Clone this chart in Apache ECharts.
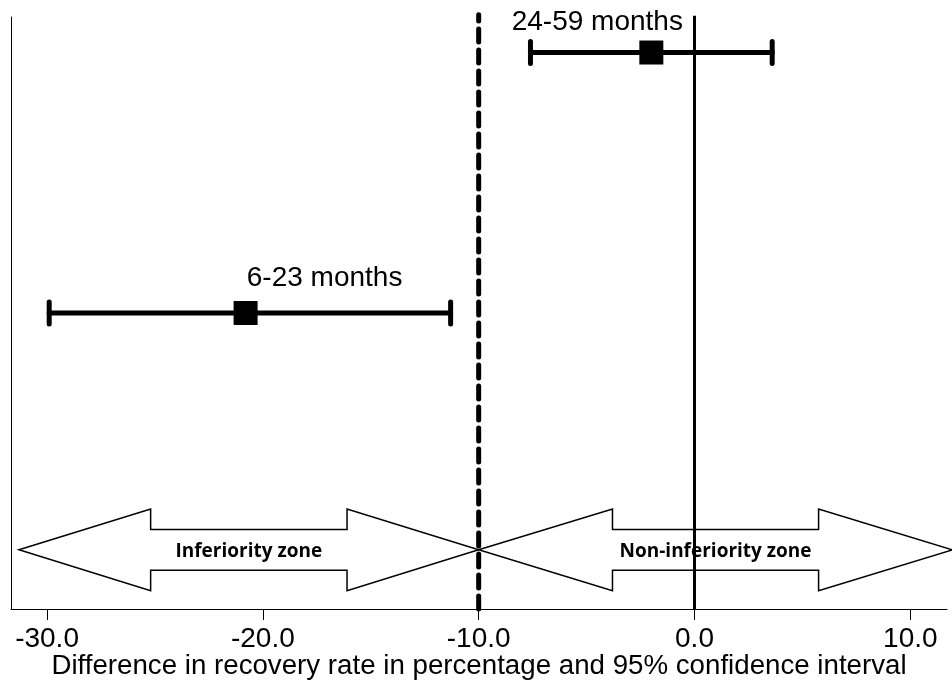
<!DOCTYPE html>
<html>
<head>
<meta charset="utf-8">
<script src="https://cdn.jsdelivr.net/npm/echarts@6/dist/echarts.min.js"></script>
<style>html,body{margin:0;padding:0;background:#fff;}#c{width:952px;height:683px;}</style>
</head>
<body>
<div id="c"></div>
<script>
// ---- data ----
const categories = ['6-23 months', '24-59 months'];
const estimates = [-20.8, -2.0];
const lowerCI = [-29.9, -7.6];
const upperCI = [-11.3, 3.6];
const rowY = [50, 94];
const xTicks = [-30, -20, -10, 0, 10];
const nonInferiorityMargin = -10;
const noDifference = 0;
const zoneNames = ['Inferiority zone', 'Non-inferiority zone'];
const zoneStart = [-31.3, -10];
const zoneEnd = [-10, 11.95];
const zoneHead = [6.1, 6.2];
const zoneY = 10;
const zoneHeadHalf = 6.9;
const zoneShaftHalf = 3.45;

const chart = echarts.init(document.getElementById('c'));

const barData = categories.map((c, i) => [lowerCI[i], upperCI[i], rowY[i], estimates[i], c]);
const zoneData = zoneNames.map((n, i) => [zoneStart[i], zoneEnd[i], zoneHead[i], n]);

const labelOffsets = [[79, -35], [-54, -30]];

chart.setOption({
  animation: false,
  backgroundColor: '#fff',
  grid: { left: 11, right: 5, top: 17, bottom: 74, containLabel: false, outerBoundsMode: 'none' },
  xAxis: {
    type: 'value', min: -31.67, max: 11.7,
    axisLine: { show: true, onZero: false, lineStyle: { color: '#000', width: 1 } },
    axisTick: { show: true, length: 11, inside: false, customValues: xTicks, lineStyle: { color: '#000', width: 1 } },
    axisLabel: { customValues: xTicks, formatter: v => v.toFixed(1), color: '#000', fontSize: 28, fontFamily: 'Liberation Sans, Arial', margin: 16 },
    splitLine: { show: false },
    name: 'Difference in recovery rate in percentage and 95% confidence interval',
    nameLocation: 'middle', nameGap: 43, nameMoveOverlap: false,
    nameTextStyle: { color: '#000', fontSize: 27.7, fontFamily: 'Liberation Sans, Arial' }
  },
  yAxis: {
    type: 'value', min: 0, max: 100,
    axisLine: { show: true, onZero: false, lineStyle: { color: '#000', width: 1 } },
    axisTick: { show: false }, axisLabel: { show: false }, splitLine: { show: false }
  },
  series: [
    {
      type: 'custom', clip: false, z: 1,
      data: zoneData,
      renderItem: (params, api) => {
        const x0 = api.value(0), x1 = api.value(1), h = api.value(2);
        const pts = [
          [x0, zoneY], [x0 + h, zoneY + zoneHeadHalf], [x0 + h, zoneY + zoneShaftHalf],
          [x1 - h, zoneY + zoneShaftHalf], [x1 - h, zoneY + zoneHeadHalf], [x1, zoneY],
          [x1 - h, zoneY - zoneHeadHalf], [x1 - h, zoneY - zoneShaftHalf],
          [x0 + h, zoneY - zoneShaftHalf], [x0 + h, zoneY - zoneHeadHalf]
        ].map(p => api.coord(p));
        const c = api.coord([(x0 + x1) / 2, zoneY]);
        return {
          type: 'group',
          children: [
            { type: 'polygon', shape: { points: pts }, style: { fill: '#fff', stroke: '#000', lineWidth: 1.5 } },
            { type: 'text', x: c[0], y: c[1] + 2, style: { text: zoneNames[params.dataIndex], fill: '#000', font: 'bold 19px "Open Sans"', align: 'center', verticalAlign: 'middle' } }
          ]
        };
      }
    },
    {
      type: 'line', z: 3, symbol: 'none', clip: false,
      data: [[nonInferiorityMargin, 0], [nonInferiorityMargin, 100.4]],
      lineStyle: { color: '#000', width: 5, type: [13, 8], cap: 'round' }
    },
    {
      type: 'line', z: 3, symbol: 'none', clip: false,
      data: [[noDifference, 0], [noDifference, 100.2]],
      lineStyle: { color: '#000', width: 3 }
    },
    {
      type: 'custom', z: 4, clip: false,
      data: barData,
      renderItem: (params, api) => {
        const a = api.coord([api.value(0), api.value(2)]);
        const b = api.coord([api.value(1), api.value(2)]);
        const st = { stroke: '#000', lineWidth: 5, lineCap: 'round' };
        return {
          type: 'group',
          children: [
            { type: 'line', shape: { x1: a[0], y1: a[1], x2: b[0], y2: b[1] }, style: st },
            { type: 'line', shape: { x1: a[0], y1: a[1] - 11, x2: a[0], y2: a[1] + 11 }, style: st },
            { type: 'line', shape: { x1: b[0], y1: b[1] - 11, x2: b[0], y2: b[1] + 11 }, style: st }
          ]
        };
      }
    },
    {
      type: 'scatter', z: 5, clip: false,
      symbol: 'rect', symbolSize: 24,
      itemStyle: { color: '#000', opacity: 1 },
      data: categories.map((c, i) => ({
        name: c, value: [estimates[i], rowY[i]],
        label: { show: true, formatter: c, position: 'inside', offset: labelOffsets[i], color: '#000', opacity: 1, fontSize: 28, fontFamily: 'Liberation Sans, Arial' }
      }))
    }
  ]
});
</script>
</body>
</html>
